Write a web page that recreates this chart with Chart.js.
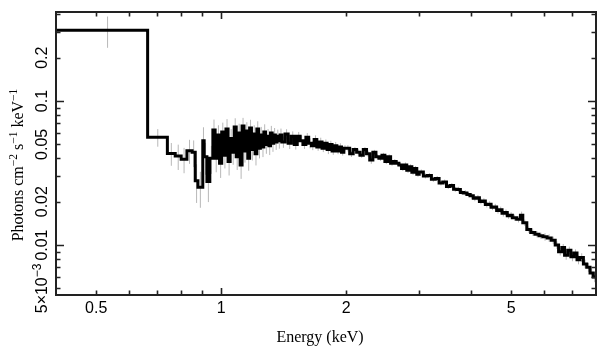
<!DOCTYPE html>
<html><head><meta charset="utf-8">
<script src="https://cdn.jsdelivr.net/npm/chart.js@4/dist/chart.umd.min.js"></script>
<style>html,body{margin:0;padding:0;background:#fff}canvas{display:block}</style>
</head><body>
<canvas id="c" width="609" height="357"></canvas>
<script>
// ---- data (keV bin edges, photons cm^-2 s^-1 keV^-1, fractional 1-sigma errors) ----
const binEdges = [
 0.400, 0.665, 0.742, 0.775, 0.801, 0.827, 0.851, 0.866, 0.879, 0.903, 0.910, 0.924, 0.939,
 0.955, 0.967, 0.979, 0.991, 1.003, 1.015, 1.027, 1.039, 1.051, 1.063, 1.075, 1.087, 1.099,
 1.111, 1.123, 1.135, 1.147, 1.159, 1.171, 1.183, 1.195, 1.207, 1.219, 1.231, 1.243, 1.255,
 1.267, 1.279, 1.291, 1.303, 1.315, 1.327, 1.339, 1.351, 1.363, 1.375, 1.387,
 1.400, 1.425, 1.450, 1.475, 1.500, 1.525, 1.550, 1.575, 1.600, 1.625, 1.650, 1.675, 1.700,
 1.725, 1.750, 1.775, 1.800, 1.825, 1.850, 1.875, 1.900, 1.925, 1.950, 1.975,
 2.00, 2.04, 2.08, 2.12, 2.16, 2.20, 2.24, 2.28, 2.32, 2.36, 2.40, 2.44, 2.48, 2.52, 2.56,
 2.60, 2.64, 2.68, 2.72, 2.76, 2.80, 2.84, 2.88, 2.92, 2.96,
 3.00, 3.07, 3.14, 3.21, 3.28, 3.35, 3.42, 3.49, 3.56, 3.63, 3.70, 3.77, 3.84, 3.91, 3.98,
 4.05, 4.12, 4.19, 4.26, 4.33, 4.40, 4.47, 4.54, 4.61, 4.68, 4.75, 4.82, 4.89, 4.96,
 5.03, 5.15, 5.26, 5.33, 5.45, 5.57, 5.70, 5.83, 5.96, 6.10, 6.24, 6.38, 6.50, 6.62, 6.72,
 6.84, 6.96, 7.08, 7.20, 7.32, 7.46, 7.60, 7.74, 7.88, 8.00
];
const flux = [
 0.31, 0.056, 0.0433, 0.0415, 0.0394, 0.0452, 0.0440, 0.028, 0.0252, 0.053, 0.041, 0.0276, 0.040,
 0.063, 0.040, 0.058, 0.037, 0.061, 0.042, 0.064, 0.038, 0.055, 0.044, 0.066, 0.041, 0.060,
 0.036, 0.067, 0.045, 0.062, 0.040, 0.065, 0.046, 0.059, 0.043, 0.064, 0.047, 0.058, 0.048,
 0.061, 0.050, 0.057, 0.049, 0.060, 0.051, 0.058, 0.052, 0.057, 0.053, 0.058,
 0.052, 0.059, 0.051, 0.057, 0.050, 0.057, 0.053, 0.050, 0.056, 0.051, 0.049, 0.054, 0.048,
 0.052, 0.047, 0.051, 0.046, 0.050, 0.045, 0.049, 0.045, 0.048, 0.044, 0.047,
 0.047, 0.043, 0.046, 0.044, 0.042, 0.046, 0.043, 0.039, 0.044, 0.041, 0.040, 0.042, 0.038,
 0.041, 0.037, 0.038, 0.037, 0.036, 0.034, 0.036, 0.033, 0.035, 0.032, 0.034, 0.031,
 0.0322, 0.0302, 0.0304, 0.0286, 0.0290, 0.0270, 0.0274, 0.0255, 0.0259, 0.0244, 0.0243,
 0.0232, 0.0230, 0.0224, 0.0220, 0.0211, 0.0213, 0.0201, 0.0202, 0.0191, 0.0192, 0.0183,
 0.0184, 0.0174, 0.0176, 0.0166, 0.0168, 0.0160, 0.0161,
 0.0155, 0.0151, 0.0161, 0.0143, 0.0128, 0.0122, 0.0119, 0.0116, 0.0114, 0.0112, 0.0108,
 0.0100, 0.0090, 0.0096, 0.0085, 0.0092, 0.0083, 0.0088, 0.0079, 0.0082, 0.0074, 0.0070,
 0.0064, 0.0060
];
const fluxErr = [
 0.245, 0.14, 0.18, 0.20, 0.20, 0.19, 0.21, 0.30, 0.28, 0.24, 0.25, 0.28, 0.22,
 0.18, 0.20, 0.17, 0.21, 0.16, 0.19, 0.17, 0.20, 0.16, 0.18, 0.15, 0.19, 0.16, 0.20, 0.14,
 0.17, 0.15, 0.18, 0.14, 0.16, 0.15, 0.17, 0.13, 0.15, 0.14, 0.15, 0.13, 0.14, 0.12, 0.14,
 0.12, 0.13, 0.12, 0.12, 0.11, 0.12, 0.11,
 0.09, 0.08, 0.09, 0.08, 0.08, 0.07, 0.08, 0.07, 0.07, 0.08, 0.07, 0.07, 0.06, 0.07, 0.06,
 0.06, 0.07, 0.06, 0.06, 0.06, 0.05, 0.06, 0.05, 0.05,
 0.05, 0.05, 0.04, 0.05, 0.04, 0.04, 0.05, 0.06, 0.04, 0.04, 0.04, 0.04, 0.04, 0.04, 0.04,
 0.04, 0.04, 0.04, 0.04, 0.04, 0.04, 0.04, 0.04, 0.04, 0.04,
 0.04, 0.04, 0.04, 0.04, 0.04, 0.04, 0.04, 0.04, 0.04, 0.04, 0.045, 0.04, 0.045, 0.04, 0.045,
 0.045, 0.045, 0.045, 0.045, 0.045, 0.05, 0.045, 0.05, 0.05, 0.05, 0.05, 0.05, 0.05, 0.05,
 0.05, 0.05, 0.06, 0.05, 0.05, 0.05, 0.05, 0.05, 0.06, 0.06, 0.06, 0.06, 0.06, 0.06, 0.07,
 0.06, 0.07, 0.06, 0.07, 0.07, 0.07, 0.07, 0.08, 0.08
];

// ---- axes ----
const xRange = [0.4, 8];
const yRange = [0.0045, 0.415];
const xLabelValues = [0.5, 1, 2, 5];
const xLabelText = ['0.5', '1', '2', '5'];
const xMajorTicks = [1];
const xMinorTicks = [0.5, 0.6, 0.7, 0.8, 0.9, 2, 3, 4, 5, 6, 7];
const yLabelValues = [0.2, 0.1, 0.05, 0.02, 0.01, 0.005];
const yLabelText = [[['0.2',0]], [['0.1',0]], [['0.05',0]], [['0.02',0]], [['0.01',0]], [['5\u00d710',0],['\u22123',1]]];
const yMajorTicks = [0.1, 0.01];
const yMinorTicks = [0.4, 0.3, 0.2, 0.09, 0.08, 0.07, 0.06, 0.05, 0.04, 0.03, 0.02, 0.009, 0.008, 0.007, 0.006, 0.005];
const xTitle = 'Energy (keV)';
const yTitle = [['Photons cm',0],['\u22122',1],[' s',0],['\u22121',1],[' keV',0],['\u22121',1]];

// ---- build datasets ----
const stepData = flux.map((v, i) => ({x: binEdges[i], y: v}));
stepData.push({x: binEdges[binEdges.length - 1], y: flux[flux.length - 1]});
const errData = [];
flux.forEach((v, i) => {
  const c = (binEdges[i] + binEdges[i + 1]) / 2;
  errData.push({x: c, y: v * (1 - fluxErr[i])}, {x: c, y: v * (1 + fluxErr[i])}, {x: c, y: null});
});

const SANS = '"Liberation Sans", Arial, Helvetica, sans-serif';
const SERIF = '"Liberation Serif", "Times New Roman", serif';

function segWidth(ctx, segs, size, supSize, family) {
  let w = 0;
  segs.forEach(([t, sup]) => { ctx.font = (sup ? supSize : size) + 'px ' + family; w += ctx.measureText(t).width; });
  return w;
}
function drawSegs(ctx, segs, x, y, size, supSize, raise, family) {
  segs.forEach(([t, sup]) => {
    ctx.font = (sup ? supSize : size) + 'px ' + family;
    ctx.fillText(t, x, sup ? y - raise : y);
    x += ctx.measureText(t).width;
  });
}

const framePlugin = {
  id: 'frame',
  afterDraw(chart) {
    const {ctx, chartArea: a, scales: {x, y}} = chart;
    ctx.save();
    ctx.strokeStyle = '#222';
    ctx.lineWidth = 1.6;
    const tx = (v, len) => {
      const p = Math.round(x.getPixelForValue(v)) + 0.5;
      ctx.beginPath();
      ctx.moveTo(p, a.bottom); ctx.lineTo(p, a.bottom - len);
      ctx.moveTo(p, a.top); ctx.lineTo(p, a.top + len);
      ctx.stroke();
    };
    const ty = (v, len) => {
      const p = Math.round(y.getPixelForValue(v)) + 0.5;
      ctx.beginPath();
      ctx.moveTo(a.left, p); ctx.lineTo(a.left + len, p);
      ctx.moveTo(a.right, p); ctx.lineTo(a.right - len, p);
      ctx.stroke();
    };
    xMinorTicks.forEach(v => tx(v, 4.5));
    xMajorTicks.forEach(v => tx(v, 7));
    yMinorTicks.forEach(v => ty(v, 4.5));
    yMajorTicks.forEach(v => ty(v, 8));
    ctx.lineWidth = 2;
    ctx.strokeRect(a.left, a.top, a.right - a.left, a.bottom - a.top);

    ctx.fillStyle = '#000';
    ctx.textBaseline = 'alphabetic';
    // x tick labels
    ctx.font = '16px ' + SANS;
    ctx.textAlign = 'center';
    xLabelValues.forEach((v, i) => ctx.fillText(xLabelText[i], x.getPixelForValue(v), a.bottom + 18));
    // x title
    ctx.font = '16px ' + SERIF;
    ctx.fillText(xTitle, (a.left + a.right) / 2 - 6, 342);
    // y tick labels (rotated)
    ctx.textAlign = 'left';
    yLabelValues.forEach((v, i) => {
      const segs = yLabelText[i];
      const w = segWidth(ctx, segs, 16, 12, SANS);
      ctx.save();
      ctx.translate(47, y.getPixelForValue(v));
      ctx.rotate(-Math.PI / 2);
      drawSegs(ctx, segs, -w / 2, 0, 16, 12, 6, SANS);
      ctx.restore();
    });
    // y title (rotated)
    const tw = segWidth(ctx, yTitle, 16, 11.5, SERIF);
    ctx.save();
    ctx.translate(23, 165);
    ctx.rotate(-Math.PI / 2);
    drawSegs(ctx, yTitle, -tw / 2, 0, 16, 11.5, 6, SERIF);
    ctx.restore();
    ctx.restore();
  }
};

new Chart(document.getElementById('c'), {
  type: 'line',
  data: {
    datasets: [
      {data: stepData, stepped: 'before', borderColor: '#000', borderWidth: 3, pointRadius: 0, fill: false, borderJoinStyle: 'miter'},
      {data: errData, borderColor: '#b8b8b8', borderWidth: 1, pointRadius: 0, fill: false, spanGaps: false}
    ]
  },
  options: {
    responsive: false,
    animation: false,
    events: [],
    layout: {padding: {top: 12, right: 13, left: 0, bottom: 0}},
    plugins: {legend: {display: false}, tooltip: {enabled: false}},
    scales: {
      x: {type: 'logarithmic', min: xRange[0], max: xRange[1], grid: {display: false}, border: {display: false},
          ticks: {display: false}, afterFit(s) { s.height = 62; }},
      y: {type: 'logarithmic', min: yRange[0], max: yRange[1], grid: {display: false}, border: {display: false},
          ticks: {display: false}, afterFit(s) { s.width = 56; }}
    }
  },
  plugins: [framePlugin]
});
</script>
</body></html>
